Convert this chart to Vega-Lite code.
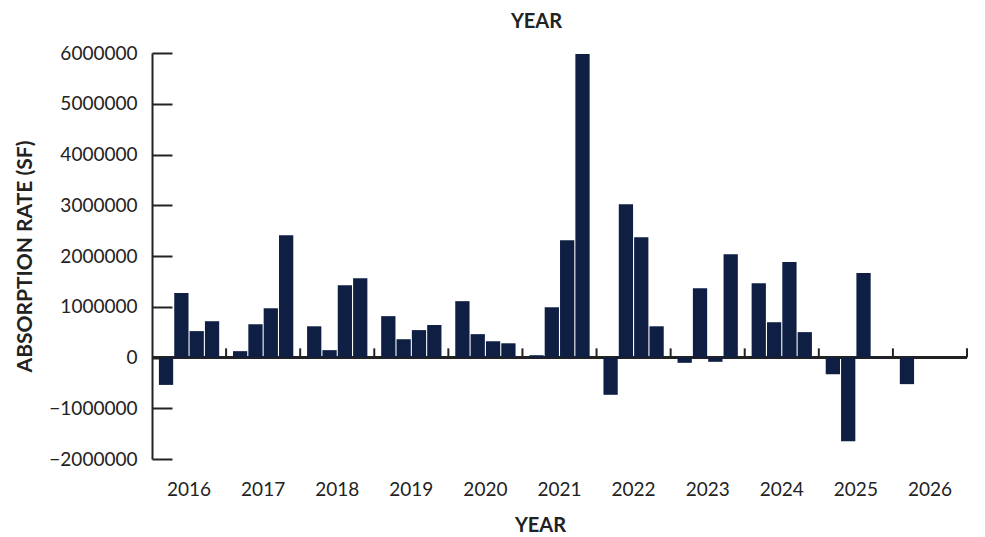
{
  "$schema": "https://vega.github.io/schema/vega-lite/v6.json",
  "width": 815,
  "height": 406,
  "autosize": "none",
  "padding": {"left": 152, "top": 53, "right": 18, "bottom": 78},
  "background": "#ffffff",
  "config": {"view": {"stroke": null}, "font": "Lato"},
  "title": {"text": "YEAR", "fontSize": 20, "fontWeight": "bold", "font": "Lato", "color": "#222222", "offset": 12, "dx": -23, "anchor": "middle"},
  "datasets": {
    "bars": [
      {"year": "2016", "q": "Q1", "v": -540000},
      {"year": "2016", "q": "Q2", "v": 1270000},
      {"year": "2016", "q": "Q3", "v": 520000},
      {"year": "2016", "q": "Q4", "v": 715000},
      {"year": "2017", "q": "Q1", "v": 125000},
      {"year": "2017", "q": "Q2", "v": 655000},
      {"year": "2017", "q": "Q3", "v": 970000},
      {"year": "2017", "q": "Q4", "v": 2410000},
      {"year": "2018", "q": "Q1", "v": 615000},
      {"year": "2018", "q": "Q2", "v": 145000},
      {"year": "2018", "q": "Q3", "v": 1425000},
      {"year": "2018", "q": "Q4", "v": 1560000},
      {"year": "2019", "q": "Q1", "v": 815000},
      {"year": "2019", "q": "Q2", "v": 360000},
      {"year": "2019", "q": "Q3", "v": 540000},
      {"year": "2019", "q": "Q4", "v": 640000},
      {"year": "2020", "q": "Q1", "v": 1110000},
      {"year": "2020", "q": "Q2", "v": 460000},
      {"year": "2020", "q": "Q3", "v": 320000},
      {"year": "2020", "q": "Q4", "v": 280000},
      {"year": "2021", "q": "Q1", "v": 45000},
      {"year": "2021", "q": "Q2", "v": 990000},
      {"year": "2021", "q": "Q3", "v": 2310000},
      {"year": "2021", "q": "Q4", "v": 5980000},
      {"year": "2022", "q": "Q1", "v": -735000},
      {"year": "2022", "q": "Q2", "v": 3020000},
      {"year": "2022", "q": "Q3", "v": 2370000},
      {"year": "2022", "q": "Q4", "v": 615000},
      {"year": "2023", "q": "Q1", "v": -105000},
      {"year": "2023", "q": "Q2", "v": 1365000},
      {"year": "2023", "q": "Q3", "v": -85000},
      {"year": "2023", "q": "Q4", "v": 2035000},
      {"year": "2024", "q": "Q1", "v": 1465000},
      {"year": "2024", "q": "Q2", "v": 695000},
      {"year": "2024", "q": "Q3", "v": 1880000},
      {"year": "2024", "q": "Q4", "v": 500000},
      {"year": "2025", "q": "Q1", "v": -330000},
      {"year": "2025", "q": "Q2", "v": -1650000},
      {"year": "2025", "q": "Q3", "v": 1665000},
      {"year": "2025", "q": "Q4", "v": -20000},
      {"year": "2026", "q": "Q1", "v": -525000}
    ],
    "years": [
      {"year": "2016"}, {"year": "2017"}, {"year": "2018"}, {"year": "2019"},
      {"year": "2020"}, {"year": "2021"}, {"year": "2022"}, {"year": "2023"},
      {"year": "2024"}, {"year": "2025"}, {"year": "2026"}
    ]
  },
  "layer": [
    {
      "data": {"name": "years"},
      "mark": {"type": "rule", "color": "#222222", "strokeWidth": 2},
      "encoding": {
        "y": {"datum": 0, "type": "quantitative"}
      }
    },
    {
      "data": {"name": "years"},
      "mark": {"type": "rule", "color": "#222222", "strokeWidth": 2},
      "encoding": {
        "x": {"field": "year", "type": "ordinal", "bandPosition": 1,
              "scale": {"paddingInner": 0, "paddingOuter": 0},
              "axis": {"title": "YEAR", "domain": false, "ticks": false, "labelAngle": 0, "labelPadding": 21, "labelFontSize": 19, "labelFont": "Lato", "labelColor": "#222222", "titleFontSize": 20, "titleFont": "Lato", "titleFontWeight": "bold", "titleColor": "#222222", "titlePadding": 16, "titleX": 388, "grid": false}},
        "y": {"datum": 0, "type": "quantitative"},
        "y2": {"datum": 180000}
      }
    },
    {
      "data": {"name": "bars"},
      "mark": {"type": "bar", "color": "#0e1f43"},
      "encoding": {
        "x": {"field": "year", "type": "ordinal",
              "scale": {"paddingInner": 0, "paddingOuter": 0},
              "axis": {"title": "YEAR", "domain": false, "ticks": false, "labelAngle": 0, "labelPadding": 21, "labelFontSize": 19, "labelFont": "Lato", "labelColor": "#222222", "titleFontSize": 20, "titleFont": "Lato", "titleFontWeight": "bold", "titleColor": "#222222", "titlePadding": 16, "titleX": 388, "grid": false}},
        "xOffset": {"field": "q", "type": "nominal", "scale": {"paddingInner": 0.07, "paddingOuter": 0.45}},
        "y": {"field": "v", "type": "quantitative",
              "scale": {"domain": [-2000000, 6000000], "nice": false, "zero": false},
              "axis": {"title": "ABSORPTION RATE (SF)", "values": [-2000000, -1000000, 0, 1000000, 2000000, 3000000, 4000000, 5000000, 6000000], "format": "d", "grid": false, "domainColor": "#222222", "domainWidth": 2, "tickColor": "#222222", "tickWidth": 2, "tickSize": -20, "labelPadding": 35, "labelFontSize": 19, "labelFont": "Lato", "labelColor": "#222222", "titleFontSize": 21, "titleFont": "Lato", "titleFontWeight": "bold", "titleColor": "#222222", "titlePadding": 13}}
      }
    }
  ]
}
